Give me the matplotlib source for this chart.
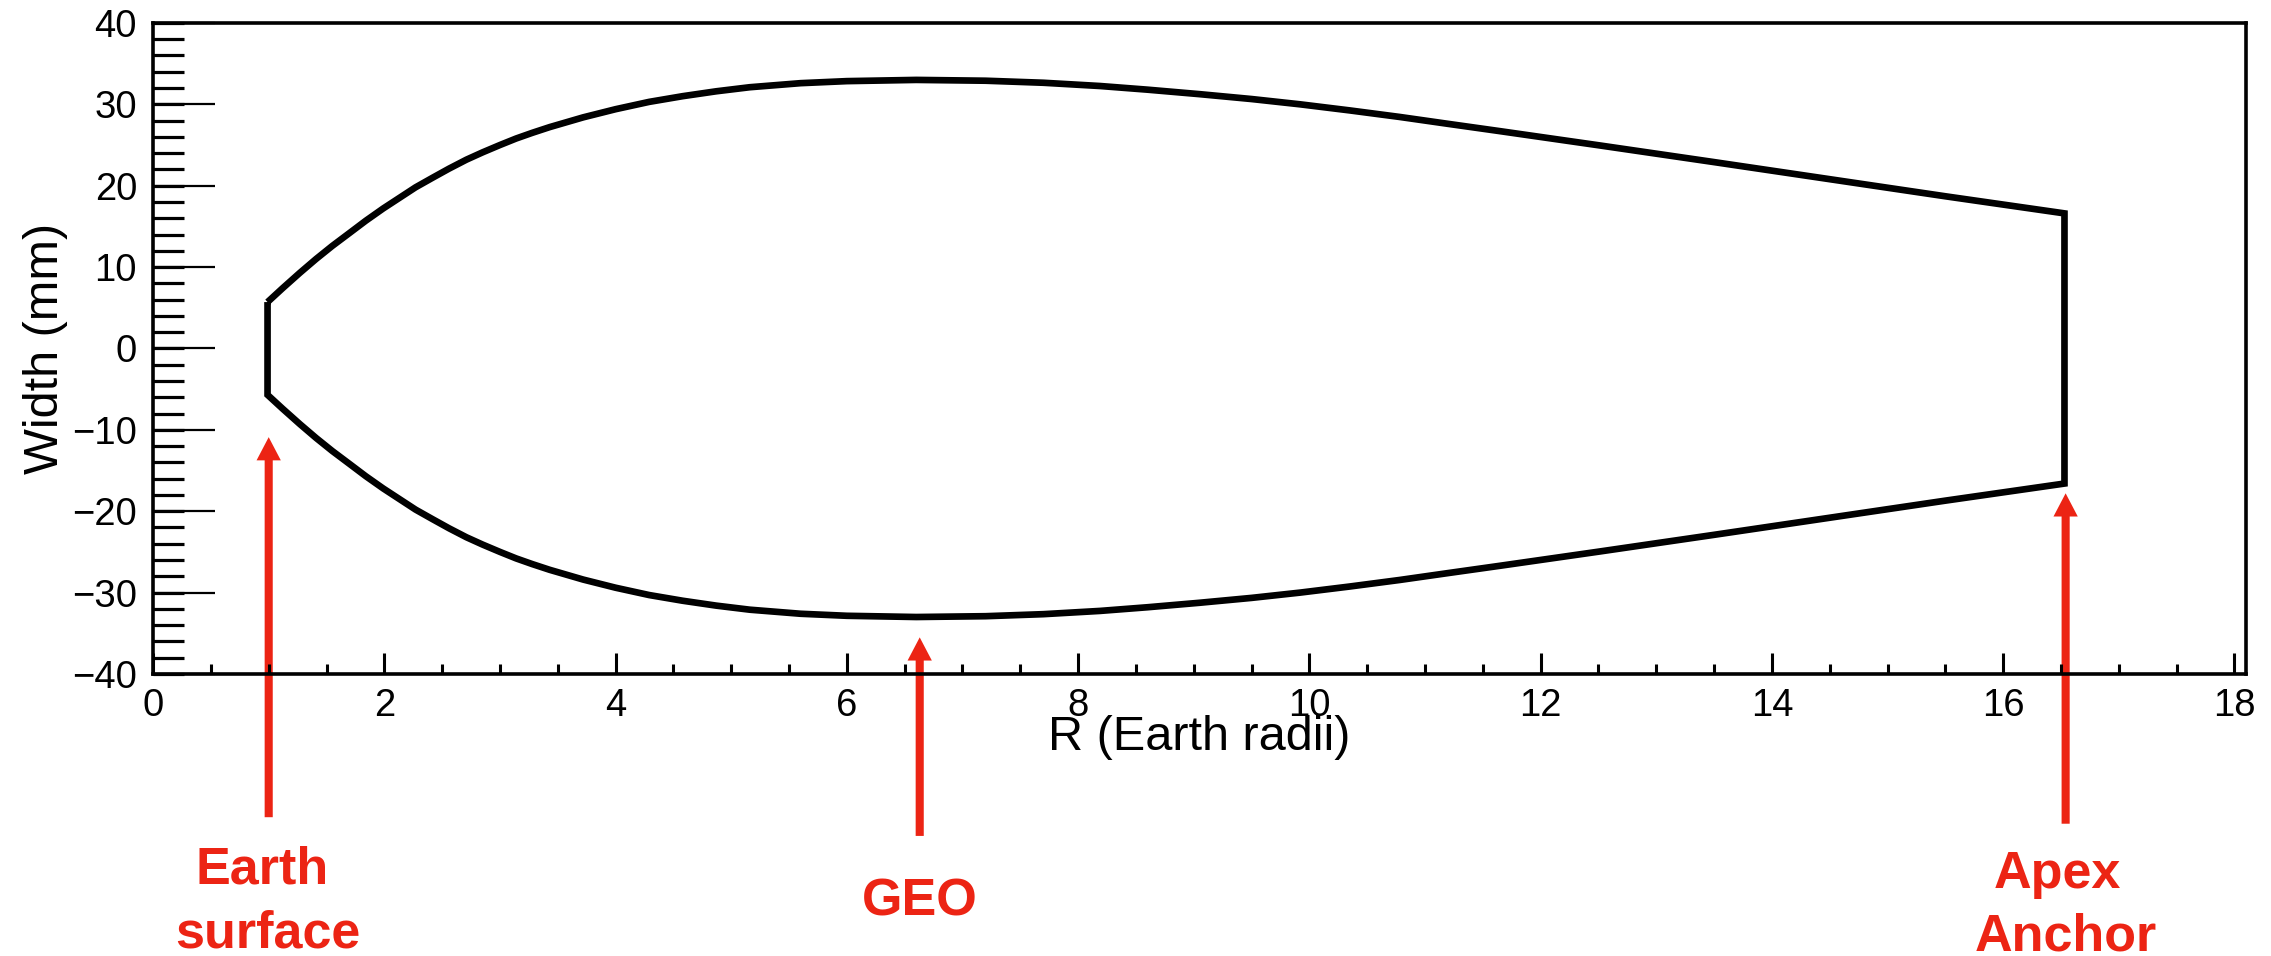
import numpy as np
import matplotlib
matplotlib.use('Agg')
import matplotlib.pyplot as plt

plt.rcParams['font.family'] = ['Liberation Sans', 'DejaVu Sans']

# tether half-width (mm) vs radius (Earth radii)
r_re = [0.99, 1.12, 1.27, 1.41, 1.55, 1.70, 1.84, 1.99, 2.13, 2.27, 2.42, 2.56, 2.71, 2.85,
        3.00, 3.14, 3.28, 3.43, 3.72, 4.00, 4.29, 4.58, 4.87, 5.16, 5.6, 6.0, 6.6, 7.2, 7.7,
        8.19, 8.6, 9.05, 9.5, 9.92, 10.35, 10.78, 11.2, 11.65, 12.51, 13.5, 14.5, 15.5, 16.53]
half_width = [5.7, 7.4, 9.3, 11.0, 12.6, 14.2, 15.7, 17.2, 18.5, 19.8, 21.0, 22.1, 23.2, 24.1,
              25.0, 25.8, 26.5, 27.2, 28.4, 29.4, 30.3, 31.0, 31.6, 32.1, 32.6, 32.85, 33.0, 32.9, 32.65,
              32.25, 31.8, 31.25, 30.65, 30.0, 29.25, 28.45, 27.6, 26.7, 24.95, 22.9, 20.8, 18.7, 16.6]

# annotations
marks_r = [1.0, 6.63, 16.54]
marks_tip = [-10.9, -35.5, -17.8]
marks_tail = [-57.6, -59.9, -58.4]
mark_lines = [[('Earth', 0.94, -65.8), ('surface', 0.99, -73.6)],
              [('GEO', 6.63, -69.7)],
              [('Apex', 16.47, -66.3), ('Anchor', 16.54, -74.0)]]

red = '#ec2414'

fig = plt.figure(figsize=(22.71, 9.56), dpi=100)
ax = fig.add_axes([0.0674, 0.295, 0.9216, 0.681])

x = r_re + r_re[::-1] + [r_re[0]]
y = half_width + [-v for v in half_width[::-1]] + [half_width[0]]
ax.plot(x, y, color='black', lw=4.8, solid_joinstyle='miter', solid_capstyle='butt')

ax.set_xlim(0, 18.1)
ax.set_ylim(-40, 40)
ax.set_xticks(np.arange(0, 19, 2))
ax.set_xticks(np.arange(0, 18.1, 0.5), minor=True)
ax.set_yticks(np.arange(-40, 41, 10))
ax.set_yticks(np.arange(-40, 41, 2), minor=True)
ax.yaxis.remove_overlapping_locs = False

ax.tick_params(which='both', direction='in', top=False, right=False, labelsize=27.5, colors='black')
ax.tick_params(axis='y', which='major', length=44.6, width=1.6, pad=11.5)
ax.tick_params(axis='y', which='minor', length=22.3, width=2.3)
ax.tick_params(axis='x', which='major', length=15, width=2.2, pad=10)
ax.tick_params(axis='x', which='minor', length=7.5, width=2.2)
for s in ax.spines.values():
    s.set_linewidth(2.6)

ax.set_xlabel('R (Earth radii)', fontsize=35, va='baseline')
ax.xaxis.set_label_coords(0.5, -0.1167)
ax.set_ylabel('Width (mm)', fontsize=35, va='baseline')
ax.yaxis.set_label_coords(-0.0454, 0.5)

for r, tip, tail, lines in zip(marks_r, marks_tip, marks_tail, mark_lines):
    ax.arrow(r, tail, 0, tip - tail, width=0.07, head_width=0.21, head_length=2.85,
             length_includes_head=True, color=red, lw=0, clip_on=False)
    for txt, tx, ty in lines:
        ax.text(tx, ty, txt, color=red, fontsize=37.5, fontweight='bold',
                ha='center', va='baseline', clip_on=False)

fig.savefig('out.png', dpi=100)
